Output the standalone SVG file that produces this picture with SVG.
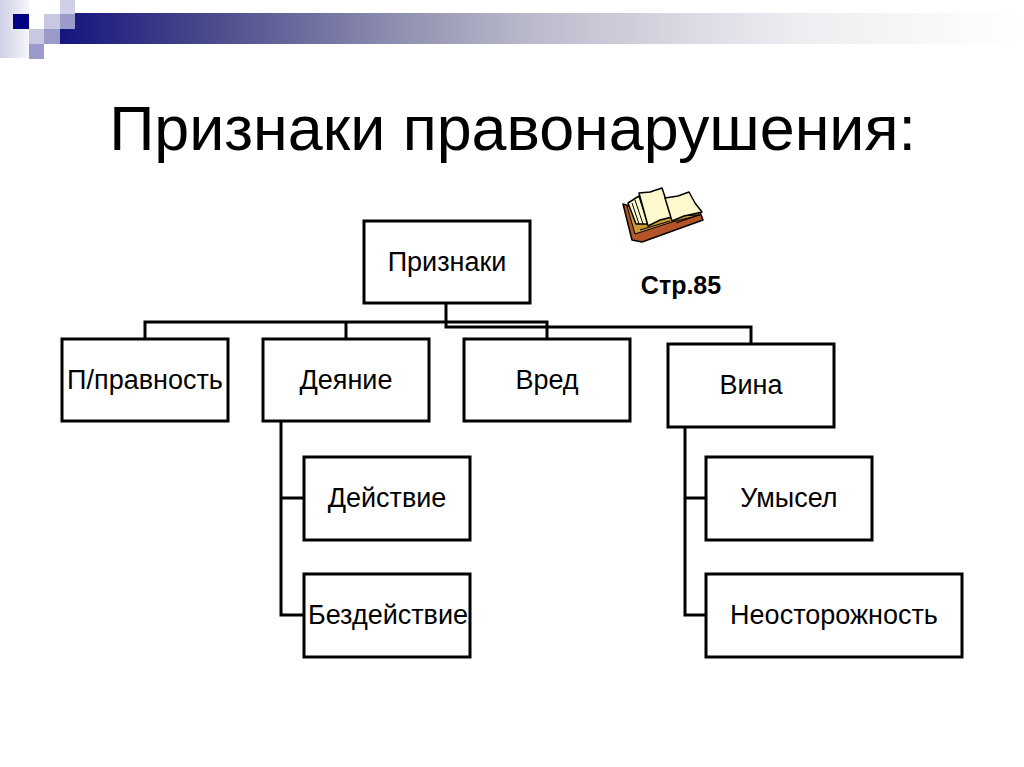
<svg xmlns="http://www.w3.org/2000/svg" width="1024" height="767" viewBox="0 0 1024 767">
<defs>
<linearGradient id="bar" gradientUnits="userSpaceOnUse" x1="60" x2="1024" y1="0" y2="0"><stop offset="0" stop-color="#15157f"/><stop offset="0.145" stop-color="#46468a"/><stop offset="0.35" stop-color="#8f8fb0"/><stop offset="0.48" stop-color="#b8b8ca"/><stop offset="0.64" stop-color="#d8d8e2"/><stop offset="0.77" stop-color="#eeeef2"/><stop offset="1" stop-color="#ffffff"/></linearGradient>
<linearGradient id="fade" x1="0" x2="1" y1="0" y2="0"><stop offset="0" stop-color="#cfcfe6"/><stop offset="1" stop-color="#f6f6fa"/></linearGradient>
</defs>
<style>
.box{fill:#fff;stroke:#000;stroke-width:3}
.lbl{font-family:"Liberation Sans",Arial,sans-serif;font-size:27px;fill:#000;text-anchor:middle}
.conn{fill:none;stroke:#000;stroke-width:3}
.leaf{fill:#fdf9cc;stroke:#000;stroke-width:1.5;stroke-linejoin:round}
</style>
<rect width="1024" height="767" fill="#fff"/>
<g id="decor">
<rect x="60" y="13" width="964" height="31" fill="url(#bar)"/>
<rect x="0" y="0" width="29" height="58" fill="url(#fade)"/>
<rect x="13" y="14" width="16" height="15" fill="#000080"/>
<rect x="44" y="14" width="16" height="15" fill="#c8c8e2"/>
<rect x="60" y="0" width="15" height="14" fill="#cfcfe6"/>
<rect x="60" y="14" width="15" height="15" fill="#9a9acb"/>
<rect x="29" y="29" width="15" height="15" fill="#c8c8e2"/>
<rect x="44" y="29" width="16" height="15" fill="#9a9acb"/>
<rect x="29" y="44" width="15" height="15" fill="#9a9acb"/>
</g>
<text id="title" x="512.5" y="150" font-family="Liberation Sans,Arial,sans-serif" font-size="62.8" text-anchor="middle" fill="#000">Признаки правонарушения:</text>
<g id="connectors">
<path class="conn" d="M446 304V322M145 339V322H547V339M346 322V339M446 322V327H751V344"/>
<path class="conn" d="M281 421V615H304M281 498H304"/>
<path class="conn" d="M685 427V615H706M685 498H706"/>
</g>
<g id="book">
<path d="M623 204L632 240L642 242L703 220L700 212L660 215Z" fill="#b5532a" stroke="#000" stroke-width="1.5" stroke-linejoin="round"/>
<path d="M627 206L635 234L672 222L700 215L672 216Z" fill="#c79d3c" stroke="#000" stroke-width="1"/>
<path class="leaf" d="M628 203L639 196L648 224L636 224Z"/>
<path class="leaf" d="M639 193L650 192L662 188L666 200L672 217L660 220L648 226Z"/>
<path class="leaf" d="M665 198L678 196L689 192L695 203L702 212L684 216L672 221Z"/>
<path d="M632 203L639 224M635 200L643 224M640 230L670 221M676 223L699 215" fill="none" stroke="#000" stroke-width="1"/>
</g>
<text id="page" x="681" y="294" font-family="Liberation Sans,Arial,sans-serif" font-size="25" font-weight="bold" text-anchor="middle">Стр.85</text>
<g id="n-root"><rect class="box" x="364" y="221" width="166" height="82"/><text class="lbl" x="447" y="271">Признаки</text></g>
<g id="n-prav"><rect class="box" x="62" y="339" width="166" height="82"/><text class="lbl" x="145" y="389">П/правность</text></g>
<g id="n-deyanie"><rect class="box" x="263" y="339" width="166" height="82"/><text class="lbl" x="346" y="389">Деяние</text></g>
<g id="n-vred"><rect class="box" x="464" y="339" width="166" height="82"/><text class="lbl" x="547" y="389">Вред</text></g>
<g id="n-vina"><rect class="box" x="668" y="344" width="166" height="83"/><text class="lbl" x="751" y="394">Вина</text></g>
<g id="n-deistvie"><rect class="box" x="304" y="457" width="166" height="83"/><text class="lbl" x="387" y="507">Действие</text></g>
<g id="n-bezd"><rect class="box" x="304" y="574" width="166" height="83"/><text class="lbl" x="388" y="624">Бездействие</text></g>
<g id="n-umysel"><rect class="box" x="706" y="457" width="166" height="83"/><text class="lbl" x="789" y="507">Умысел</text></g>
<g id="n-neost"><rect class="box" x="706" y="574" width="256" height="83"/><text class="lbl" x="834" y="624">Неосторожность</text></g>
</svg>
